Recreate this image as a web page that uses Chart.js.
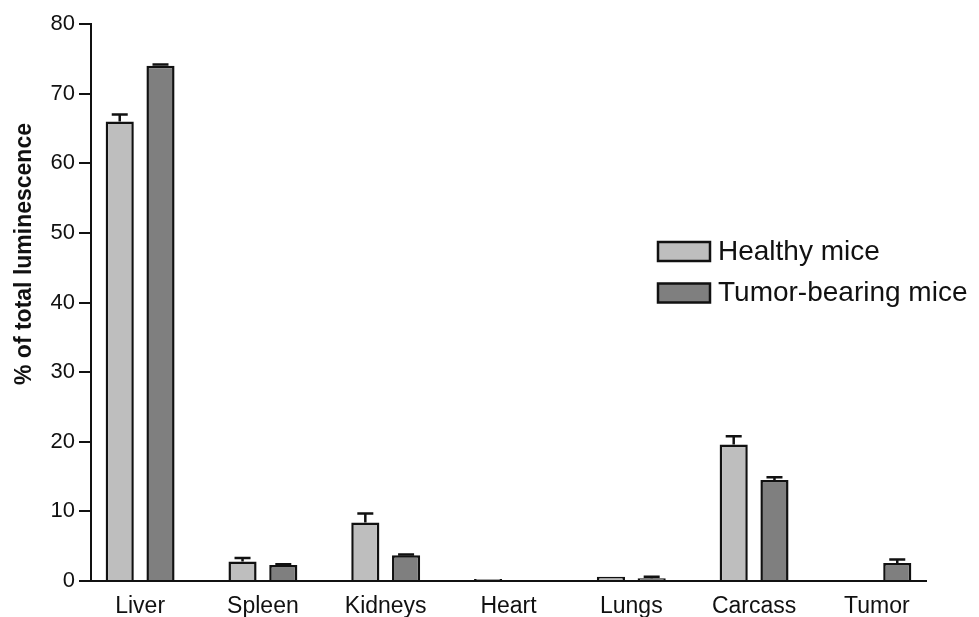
<!DOCTYPE html>
<html>
<head>
<meta charset="utf-8">
<script src="https://cdn.jsdelivr.net/npm/chart.js@4"></script>
<style>
  html, body { margin: 0; padding: 0; background: #fff; }
</style>
</head>
<body>
<canvas id="organChart" width="979" height="617"></canvas>
<script>
const organs = ['Liver', 'Spleen', 'Kidneys', 'Heart', 'Lungs', 'Carcass', 'Tumor'];
const healthy = [66, 2.8, 8.4, 0.3, 0.6, 19.6, null];
const healthyErr = [1.0, 0.5, 1.3, 0, 0, 1.2, 0];
const tumorBearing = [74, 2.3, 3.7, 0, 0.4, 14.5, 2.6];
const tumorErr = [0.2, 0.1, 0.1, 0, 0.2, 0.4, 0.5];
const yTitle = '% of total luminescence';

const ink = '#111';
const fontName = '"Liberation Sans", Arial, sans-serif';

// error bars, upward only
const errorBars = {
  id: 'errorBars',
  afterDatasetsDraw(chart) {
    const ctx = chart.ctx;
    const y = chart.scales.y;
    ctx.save();
    ctx.strokeStyle = ink;
    ctx.lineWidth = 2.5;
    chart.data.datasets.forEach((ds, di) => {
      const meta = chart.getDatasetMeta(di);
      meta.data.forEach((bar, i) => {
        const v = ds.data[i].y;
        const e = ds.errors[i];
        if (v == null || !e) return;
        const top = y.getPixelForValue(v + e);
        ctx.beginPath();
        ctx.moveTo(bar.x, bar.y);
        ctx.lineTo(bar.x, top);
        ctx.moveTo(bar.x - 8, top);
        ctx.lineTo(bar.x + 8, top);
        ctx.stroke();
      });
    });
    ctx.restore();
  }
};

// legend box + y title drawn where the original has them
const extras = {
  id: 'extras',
  afterDraw(chart) {
    const ctx = chart.ctx;
    ctx.save();
    ctx.font = '28px ' + fontName;
    ctx.textBaseline = 'middle';
    ctx.textAlign = 'left';
    chart.data.datasets.forEach((ds, i) => {
      const top = 242 + i * 41.5;
      ctx.fillStyle = ds.backgroundColor;
      ctx.fillRect(658, top, 52, 19);
      ctx.strokeStyle = ink;
      ctx.lineWidth = 2.5;
      ctx.strokeRect(658, top, 52, 19);
      ctx.fillStyle = ink;
      ctx.fillText(ds.label, 718, top + 10);
    });

    ctx.translate(25, 254);
    ctx.rotate(-Math.PI / 2);
    ctx.font = 'bold 23px ' + fontName;
    ctx.textAlign = 'center';
    ctx.fillText(yTitle, 0, 0);
    ctx.restore();
  }
};

const ctx = document.getElementById('organChart').getContext('2d');
new Chart(ctx, {
  type: 'bar',
  data: {
    datasets: [
      {
        label: 'Healthy mice',
        data: healthy.map((v, i) => ({ x: i, y: v })),
        errors: healthyErr,
        backgroundColor: '#bebebe',
        borderColor: ink,
        borderWidth: 2.5,
        categoryPercentage: 0.664,
        barPercentage: 0.69
      },
      {
        label: 'Tumor-bearing mice',
        data: tumorBearing.map((v, i) => ({ x: i, y: v })),
        errors: tumorErr,
        backgroundColor: '#7f7f7f',
        borderColor: ink,
        borderWidth: 2.5,
        categoryPercentage: 0.664,
        barPercentage: 0.69
      }
    ]
  },
  options: {
    responsive: false,
    animation: false,
    layout: { padding: { left: 0, top: 24, right: 53, bottom: 0 } },
    plugins: {
      legend: { display: false },
      tooltip: { enabled: false }
    },
    scales: {
      x: {
        type: 'linear',
        min: -0.4,
        max: 6.4,
        offset: false,
        afterBuildTicks: (scale) => {
          scale.ticks = organs.map((_, i) => ({ value: i }));
        },
        afterFit: (scale) => { scale.height = 36; },
        grid: { display: false, drawTicks: false, offset: false },
        border: { display: true, color: ink, width: 2 },
        ticks: {
          autoSkip: false,
          maxRotation: 0,
          padding: 12,
          color: ink,
          font: { family: fontName, size: 23 },
          callback: (value) => organs[value]
        }
      },
      y: {
        min: 0,
        max: 80,
        afterFit: (scale) => { scale.width = 91; },
        grid: {
          drawOnChartArea: false,
          drawTicks: true,
          tickLength: 12,
          color: ink,
          lineWidth: 2
        },
        border: { display: true, color: ink, width: 2 },
        ticks: {
          stepSize: 10,
          padding: 4,
          color: ink,
          font: { family: fontName, size: 22 }
        }
      }
    }
  },
  plugins: [errorBars, extras]
});
</script>
</body>
</html>
